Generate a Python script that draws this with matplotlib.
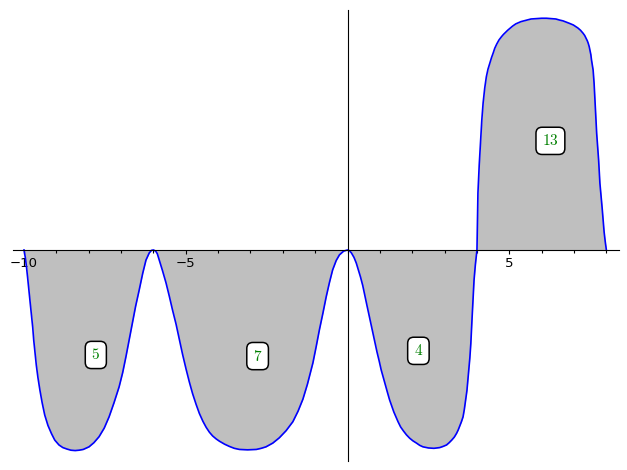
import matplotlib.pyplot as plt
from matplotlib.ticker import MultipleLocator

# curve points (x, y)
x = [-10.0, -9.96, -9.93, -9.89, -9.85, -9.81, -9.77, -9.73, -9.70, -9.66,
     -9.62, -9.57, -9.51, -9.44, -9.36, -9.26, -9.15, -9.05, -8.92, -8.80,
     -8.67, -8.55, -8.42, -8.30, -8.17, -7.99, -7.84, -7.68, -7.52, -7.37,
     -7.22, -7.06, -6.95, -6.85, -6.75, -6.65, -6.55, -6.44, -6.33, -6.23,
     -6.13, -6.06, -6.0, -5.93, -5.88, -5.82, -5.72, -5.61, -5.51, -5.41,
     -5.30, -5.20, -5.10, -4.99, -4.89, -4.79, -4.68, -4.58, -4.47, -4.37,
     -4.27, -4.17, -4.06, -3.96, -3.80, -3.65, -3.50, -3.34, -3.09, -2.82,
     -2.67, -2.52, -2.31, -2.11, -1.90, -1.69, -1.53, -1.38, -1.24, -1.07,
     -0.97, -0.87, -0.76, -0.66, -0.56, -0.46, -0.35, -0.25, -0.12, 0.0,
     0.06, 0.12, 0.20, 0.27, 0.33, 0.40, 0.47, 0.53, 0.59, 0.65,
     0.72, 0.78, 0.85, 0.91, 0.98, 1.04, 1.11, 1.18, 1.24, 1.30,
     1.43, 1.56, 1.64, 1.73, 1.82, 1.92, 2.02, 2.13, 2.23, 2.33,
     2.50, 2.67, 2.85, 2.95, 3.06, 3.14, 3.22, 3.30, 3.37, 3.42,
     3.47, 3.52, 3.57, 3.61, 3.65, 3.69, 3.72, 3.75, 3.78, 3.81,
     3.83, 3.85, 3.87, 3.89, 3.91, 3.93, 3.95, 3.98, 4.0,
     4.015, 4.03, 4.05, 4.07, 4.09, 4.11, 4.13, 4.15, 4.17, 4.19,
     4.215, 4.24, 4.265, 4.29, 4.34, 4.40, 4.45, 4.50, 4.55, 4.61,
     4.68, 4.76, 4.82, 4.89, 4.95, 5.02, 5.10, 5.20, 5.36, 5.53,
     5.67, 5.82, 6.00, 6.15, 6.30, 6.44, 6.56, 6.66, 6.75, 6.87,
     6.98, 7.05, 7.12, 7.20, 7.28, 7.33, 7.37, 7.41, 7.44, 7.47,
     7.49, 7.52, 7.54, 7.565, 7.59, 7.605, 7.62, 7.64, 7.66, 7.68,
     7.70, 7.73, 7.76, 7.78, 7.80, 7.825, 7.85, 7.87, 7.89, 7.91,
     7.93, 7.965, 8.0]
y = [0.0, -0.20, -0.40, -0.72, -1.07, -1.40, -1.73, -2.07, -2.40, -2.73,
     -3.07, -3.40, -3.73, -4.07, -4.40, -4.68, -4.90, -5.07, -5.20, -5.27,
     -5.31, -5.34, -5.35, -5.34, -5.32, -5.25, -5.14, -4.98, -4.75, -4.45,
     -4.08, -3.65, -3.27, -2.85, -2.40, -1.95, -1.50, -1.07, -0.62, -0.27,
     -0.08, -0.01, 0.0, -0.03, -0.10, -0.27, -0.55, -0.88, -1.23, -1.60,
     -1.98, -2.38, -2.78, -3.18, -3.52, -3.83, -4.12, -4.36, -4.57, -4.73,
     -4.86, -4.96, -5.04, -5.10, -5.18, -5.24, -5.29, -5.32, -5.33, -5.32,
     -5.29, -5.25, -5.15, -5.01, -4.82, -4.58, -4.30, -3.98, -3.58, -3.01,
     -2.58, -2.13, -1.68, -1.25, -0.87, -0.53, -0.28, -0.13, -0.03, 0.0,
     -0.02, -0.08, -0.20, -0.35, -0.52, -0.72, -0.95, -1.20, -1.44, -1.68,
     -1.95, -2.21, -2.47, -2.72, -2.97, -3.20, -3.42, -3.63, -3.82, -4.00,
     -4.32, -4.58, -4.72, -4.83, -4.93, -5.02, -5.09, -5.15, -5.21, -5.25,
     -5.28, -5.29, -5.27, -5.24, -5.20, -5.14, -5.07, -4.99, -4.89, -4.80,
     -4.69, -4.58, -4.45, -4.25, -4.00, -3.75, -3.47, -3.18, -2.88, -2.50,
     -2.13, -1.80, -1.47, -1.13, -0.80, -0.60, -0.40, -0.15, 0.0,
     0.80, 1.52, 1.92, 2.27, 2.57, 2.85, 3.17, 3.47, 3.71, 3.92,
     4.13, 4.32, 4.48, 4.62, 4.82, 4.99, 5.13, 5.25, 5.38, 5.49,
     5.60, 5.69, 5.75, 5.81, 5.86, 5.91, 5.97, 6.03, 6.09, 6.13,
     6.16, 6.17, 6.18, 6.18, 6.17, 6.16, 6.13, 6.11, 6.08, 6.04,
     6.00, 5.96, 5.92, 5.86, 5.78, 5.72, 5.65, 5.58, 5.51, 5.42,
     5.33, 5.21, 5.07, 4.94, 4.80, 4.62, 4.45, 4.12, 3.79, 3.45,
     3.11, 2.75, 2.40, 2.09, 1.78, 1.55, 1.33, 1.11, 0.89, 0.68,
     0.48, 0.22, 0.0]

# labels in the filled regions
label_x = [-7.78, -2.78, 2.19, 6.27]
label_y = [-2.80, -2.83, -2.69, 2.91]
label_txt = ["5", "7", "4", "13"]

plt.rcParams['mathtext.fontset'] = 'cm'

fig = plt.figure(figsize=(6.27, 4.70), dpi=100)
ax = fig.add_axes([13/627, 1 - 460.7/470, (619 - 13)/627, (460.7 - 10)/470])

ax.fill_between(x, y, 0, color="#bfbfbf", lw=0)
ax.plot(x, y, color="blue", lw=1.2)

for lx, ly, t in zip(label_x, label_y, label_txt):
    ax.text(lx, ly, f"${t}$", color="green", fontsize=11, ha="center", va="center",
            bbox=dict(boxstyle="round,pad=0.4", fc="white", ec="black", lw=1.1))

ax.set_xlim(-10.34, 8.39)
ax.set_ylim(-5.62, 6.4)

ax.spines['left'].set_position(('data', 0))
ax.spines['bottom'].set_position(('data', 0))
ax.spines['top'].set_visible(False)
ax.spines['right'].set_visible(False)
ax.set_yticks([])
ax.set_xticks([-10, -5, 5])
ax.xaxis.set_minor_locator(MultipleLocator(1))
ax.tick_params(axis='x', which='major', length=3, width=0.8, labelsize=9.5, pad=2)
ax.tick_params(axis='x', which='minor', length=2, width=0.8)

fig.savefig("out.png", dpi=100)
